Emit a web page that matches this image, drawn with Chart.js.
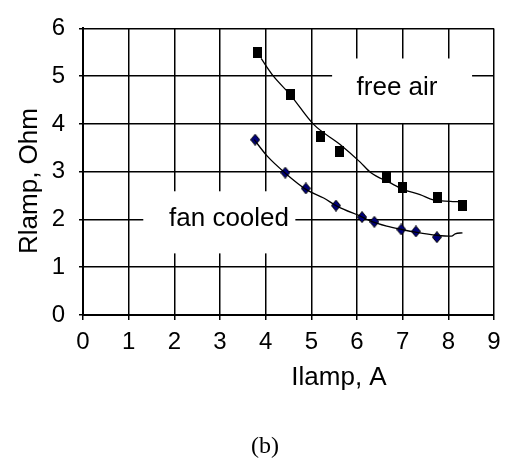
<!DOCTYPE html>
<html>
<head>
<meta charset="utf-8">
<script src="https://cdn.jsdelivr.net/npm/chart.js@4"></script>
<style>
  html, body { margin: 0; padding: 0; background: #fff; }
  #wrap { width: 509px; height: 462px; position: relative; }
</style>
</head>
<body>
<div id="wrap"><canvas id="lampChart" width="509" height="462"></canvas></div>
<script>
// Measured lamp resistance vs. current, free air and fan cooled
const freeAirI = [3.83, 4.54, 5.19, 5.61, 6.65, 7.0, 7.77, 8.31];
const freeAirR = [5.49, 4.61, 3.73, 3.43, 2.88, 2.66, 2.45, 2.29];

const fanI = [3.77, 4.43, 4.88, 5.54, 6.11, 6.38, 6.97, 7.29, 7.75];
const fanR = [3.67, 2.98, 2.65, 2.29, 2.05, 1.95, 1.79, 1.75, 1.63];

// Trend curves drawn through the measurements
const freeAirTrendI = [3.9, 4.17, 4.54, 5.05, 5.63, 6.07, 6.29, 6.72, 7.01, 7.38, 7.67, 8.04, 8.26];
const freeAirTrendR = [5.37, 5.0, 4.61, 3.99, 3.57, 3.2, 2.99, 2.77, 2.63, 2.52, 2.41, 2.38, 2.37];

const fanTrendI = [3.75, 4.03, 4.43, 4.9, 5.27, 5.56, 6.14, 6.29, 6.65, 6.98, 7.31, 7.75, 8.07, 8.15, 8.31];
const fanTrendR = [3.67, 3.33, 2.97, 2.62, 2.45, 2.28, 2.04, 1.97, 1.86, 1.79, 1.73, 1.67, 1.65, 1.7, 1.72];

const xTicks = [0, 1, 2, 3, 4, 5, 6, 7, 8, 9];
const yTicks = [0, 1, 2, 3, 4, 5, 6];

const FONT = "'Liberation Sans', Arial, sans-serif";

function pts(xs, ys) {
  return xs.map((x, i) => ({ x: x, y: ys[i] }));
}

// marker images: black tall square and navy diamond
function squareMarker() {
  const c = document.createElement("canvas");
  c.width = 9; c.height = 11;
  const g = c.getContext("2d");
  g.fillStyle = "#000";
  g.fillRect(0, 0, 9, 11);
  return c;
}
function diamondMarker() {
  const c = document.createElement("canvas");
  c.width = 10; c.height = 12;
  const g = c.getContext("2d");
  g.beginPath();
  g.moveTo(5, 0.5); g.lineTo(9.5, 6); g.lineTo(5, 11.5); g.lineTo(0.5, 6);
  g.closePath();
  g.fillStyle = "#00007a";
  g.fill();
  g.strokeStyle = "#000";
  g.lineWidth = 1;
  g.stroke();
  return c;
}

// white label boxes over the grid, axis titles and caption
const annotations = {
  id: "annotations",
  beforeDatasetsDraw(chart) {
    const { ctx, scales: { x, y } } = chart;
    ctx.save();
    ctx.fillStyle = "#fff";
    ctx.fillRect(x.getPixelForValue(5.455), y.getPixelForValue(5.37),
      x.getPixelForValue(8.52) - x.getPixelForValue(5.455), y.getPixelForValue(4.02) - y.getPixelForValue(5.37));
    ctx.fillRect(x.getPixelForValue(1.32), y.getPixelForValue(2.59),
      x.getPixelForValue(4.65) - x.getPixelForValue(1.32), y.getPixelForValue(1.29) - y.getPixelForValue(2.59));
    ctx.fillStyle = "#000";
    ctx.font = "26px " + FONT;
    ctx.textAlign = "center";
    ctx.textBaseline = "alphabetic";
    ctx.fillText("free air", 397, 95);
    ctx.fillText("fan cooled", 229, 226);
    ctx.restore();
  },
  afterDraw(chart) {
    const { ctx } = chart;
    ctx.save();
    ctx.fillStyle = "#000";
    ctx.font = "26px " + FONT;
    ctx.textAlign = "center";
    ctx.textBaseline = "alphabetic";
    ctx.fillText("Ilamp, A", 339, 385);
    ctx.translate(37, 181);
    ctx.rotate(-Math.PI / 2);
    ctx.fillText("Rlamp, Ohm", 0, 0);
    ctx.restore();
    ctx.save();
    ctx.fillStyle = "#000";
    ctx.font = "24px 'Liberation Serif', 'Times New Roman', serif";
    ctx.textAlign = "center";
    ctx.fillText("(b)", 265, 453);
    ctx.restore();
  }
};

const ctx = document.getElementById("lampChart").getContext("2d");
const lampChart = new Chart(ctx, {
  type: "scatter",
  data: {
    datasets: [
      {
        label: "free air trend",
        data: pts(freeAirTrendI, freeAirTrendR),
        showLine: true,
        borderColor: "#000",
        borderWidth: 1.3,
        cubicInterpolationMode: "monotone",
        pointRadius: 0,
      },
      {
        label: "fan cooled trend",
        data: pts(fanTrendI, fanTrendR),
        showLine: true,
        borderColor: "#000",
        borderWidth: 1.3,
        cubicInterpolationMode: "monotone",
        pointRadius: 0,
      },
      {
        label: "free air",
        data: pts(freeAirI, freeAirR),
        pointStyle: squareMarker(),
        pointRadius: 6,
      },
      {
        label: "fan cooled",
        data: pts(fanI, fanR),
        pointStyle: diamondMarker(),
        pointRadius: 6,
      },
    ],
  },
  options: {
    responsive: false,
    animation: false,
    events: [],
    layout: { padding: { left: 0, top: 21, right: 15, bottom: 0 } },
    plugins: {
      legend: { display: false },
      tooltip: { enabled: false },
    },
    scales: {
      x: {
        type: "linear",
        min: 0,
        max: 9,
        afterFit: (s) => { s.height = 147; },
        afterBuildTicks: (s) => { s.ticks = xTicks.map((v) => ({ value: v })); },
        grid: { color: "#000", lineWidth: 1.5, tickLength: 5 },
        border: { color: "#000", width: 2 },
        ticks: { color: "#000", font: { size: 24, family: FONT }, padding: 8, maxRotation: 0 },
      },
      y: {
        type: "linear",
        min: 0,
        max: 6,
        afterFit: (s) => { s.width = 83; },
        afterBuildTicks: (s) => { s.ticks = yTicks.map((v) => ({ value: v })); },
        grid: { color: "#000", lineWidth: 1.5, tickLength: 4 },
        border: { color: "#000", width: 2 },
        ticks: { color: "#000", font: { size: 24, family: FONT }, padding: 14 },
      },
    },
  },
  plugins: [annotations],
});
</script>
</body>
</html>
